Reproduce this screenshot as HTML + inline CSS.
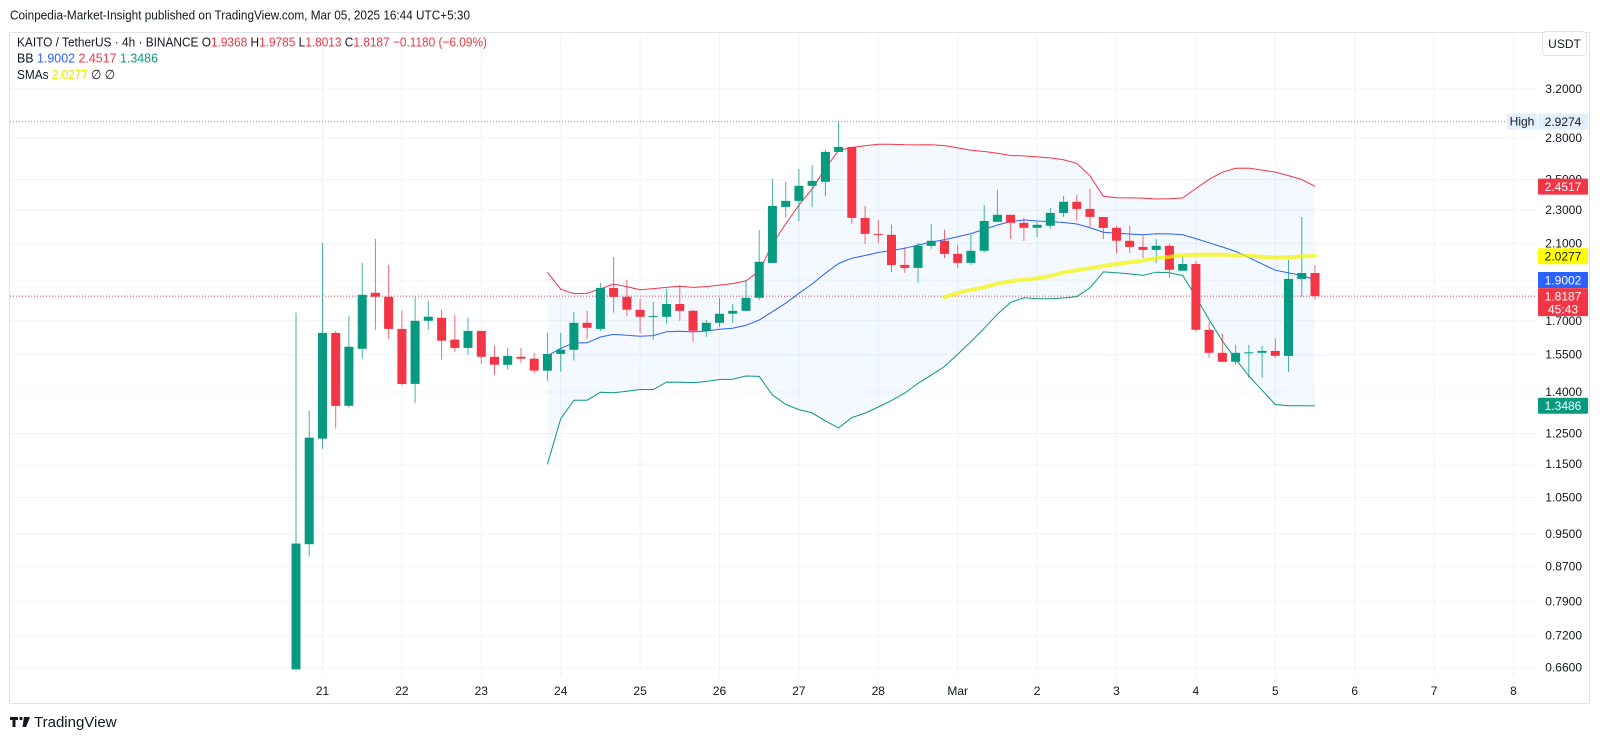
<!DOCTYPE html>
<html><head><meta charset="utf-8"><style>
html,body{margin:0;padding:0;background:#fff;}
svg{display:block;font-family:"Liberation Sans","DejaVu Sans",sans-serif;}
</style></head><body>
<svg id="chart" width="1600" height="739" viewBox="0 0 1600 739" xmlns="http://www.w3.org/2000/svg">
<rect x="0" y="0" width="1600" height="739" fill="#fff"/>
<text x="10" y="19.5" font-size="13" fill="#131722" textLength="460" lengthAdjust="spacingAndGlyphs">Coinpedia-Market-Insight published on TradingView.com, Mar 05, 2025 16:44 UTC+5:30</text>
<rect x="9.5" y="32.5" width="1580" height="671" fill="none" stroke="#e0e3eb"/>
<g id="grid"></g>
<g id="bands"></g>
<g id="candles"></g>
<g id="axis"></g>
<text x="17" y="46.5" font-size="13" fill="#131722" textLength="470" lengthAdjust="spacingAndGlyphs">KAITO / TetherUS · 4h · BINANCE  O<tspan fill="#f23645">1.9368</tspan>  H<tspan fill="#f23645">1.9785</tspan>  L<tspan fill="#f23645">1.8013</tspan>  C<tspan fill="#f23645">1.8187</tspan>  <tspan fill="#f23645">−0.1180 (−6.09%)</tspan></text>
<text x="17" y="62.5" font-size="13" fill="#131722" textLength="141" lengthAdjust="spacingAndGlyphs">BB  <tspan fill="#2962ff">1.9002</tspan>  <tspan fill="#f23645">2.4517</tspan>  <tspan fill="#089981">1.3486</tspan></text>
<text x="17" y="79" font-size="13" fill="#131722" textLength="98" lengthAdjust="spacingAndGlyphs">SMAs  <tspan fill="#e8e800">2.0277</tspan>  ∅  ∅</text>
<rect x="1542.5" y="31.5" width="44" height="24" rx="4" fill="#fff" stroke="#e0e3eb"/>
<text x="1564.5" y="48" font-size="12" fill="#131722" text-anchor="middle">USDT</text>
<g>
<path d="M10 717h8v3h-2.5v7h-3v-7H10z" fill="#131722"/>
<circle cx="21" cy="718.5" r="1.6" fill="#131722"/>
<path d="M24 717h6l-4 10h-3.5z" fill="#131722"/>
<text x="34" y="727" font-size="15" fill="#131722">TradingView</text>
</g>
</svg>
<script>
const opens=[0.657,0.924,1.233,1.645,1.348,1.575,1.835,1.815,1.663,1.431,
1.700,1.714,1.615,1.579,1.654,1.541,1.508,1.541,1.533,1.484,
1.553,1.571,1.691,1.663,1.860,1.815,1.752,1.719,1.719,1.780,
1.747,1.654,1.691,1.733,1.747,1.810,1.991,2.320,2.358,2.457,
2.484,2.695,2.732,2.251,2.155,2.150,1.980,1.964,2.086,2.115,
2.041,1.991,2.058,2.227,2.270,2.221,2.191,2.203,2.282,2.352,
2.307,2.257,2.191,2.115,2.080,2.063,2.086,1.949,1.985,1.659,
1.558,1.520,1.558,1.558,1.566,1.545,1.906,1.9368];
const highs=[1.738,1.330,2.103,1.654,1.723,1.991,2.126,1.980,1.747,1.815,
1.795,1.752,1.728,1.714,1.654,1.588,1.579,1.579,1.558,1.645,
1.645,1.743,1.747,1.886,2.024,1.901,1.805,1.790,1.855,1.875,
1.752,1.705,1.810,1.780,1.901,2.179,2.504,2.484,2.573,2.601,
2.710,2.9274,2.732,2.326,2.239,2.209,2.080,2.103,2.215,2.179,
2.092,2.150,2.332,2.430,2.270,2.251,2.227,2.313,2.390,2.397,
2.437,2.257,2.203,2.203,2.150,2.126,2.097,2.024,2.002,1.695,
1.641,1.592,1.592,1.588,1.619,2.008,2.257,1.9785];
const lows=[0.655,0.894,1.199,1.267,1.341,1.533,1.659,1.619,1.424,1.359,
1.659,1.529,1.562,1.549,1.512,1.467,1.488,1.516,1.472,1.443,
1.480,1.525,1.619,1.654,1.738,1.723,1.645,1.615,1.686,1.700,
1.606,1.628,1.672,1.691,1.747,1.800,1.991,2.251,2.233,2.320,
2.390,2.695,2.215,2.097,2.103,1.943,1.938,1.886,2.069,2.018,
1.964,1.980,2.047,2.227,2.126,2.115,2.138,2.185,2.257,2.233,
2.197,2.126,2.041,2.047,2.018,1.991,1.911,1.949,1.650,1.537,
1.520,1.508,1.455,1.455,1.537,1.480,1.815,1.8013];
const closes=[0.926,1.236,1.645,1.348,1.584,1.825,1.815,1.663,1.431,1.700,
1.719,1.610,1.579,1.654,1.541,1.508,1.545,1.533,1.484,1.553,
1.571,1.691,1.668,1.860,1.815,1.752,1.719,1.723,1.780,1.747,
1.654,1.691,1.733,1.747,1.810,1.997,2.326,2.358,2.457,2.490,
2.695,2.732,2.251,2.155,2.150,1.980,1.964,2.086,2.115,2.041,
1.991,2.058,2.233,2.270,2.221,2.191,2.209,2.282,2.352,2.307,
2.257,2.191,2.115,2.080,2.063,2.086,1.954,1.985,1.659,1.558,
1.520,1.558,1.560,1.566,1.545,1.906,1.9368,1.8187];
const dayLabels=['21','22','23','24','25','26','27','28','Mar','2','3','4','5','6','7','8'];
const priceTicks=[3.2,2.8,2.5,2.3,2.1,1.9,1.7,1.55,1.4,1.25,1.15,1.05,0.95,0.87,0.79,0.72,0.66];
const hiddenTicks=[1.9];
const bbPeriod=20;
const smaPeriod=50;
const allTimeHigh=2.9274;
const countdown='45:43';

const NS='http://www.w3.org/2000/svg';
function X(i){return 296+13.234*i;}
function Y(p){return 89+Math.log(3.2/p)*366.5;}
function mk(tag,attrs,parent){const e=document.createElementNS(NS,tag);for(const k in attrs)e.setAttribute(k,attrs[k]);parent.appendChild(e);return e;}
const grid=document.getElementById('grid'),bands=document.getElementById('bands'),cg=document.getElementById('candles'),axis=document.getElementById('axis');
const PL=10,PR=1537,PB=676;

priceTicks.forEach(p=>{
  const l=mk('line',{x1:PL,x2:PR,y1:Y(p).toFixed(1),y2:Y(p).toFixed(1),stroke:'#f0f3fa','stroke-width':1},grid);
  
  
  if(hiddenTicks.indexOf(p)<0){
    const t=mk('text',{x:1582,y:(Y(p)+4).toFixed(1),'font-size':12,fill:'#131722','text-anchor':'end'},axis);
    t.textContent=p.toFixed(4);
    
    
  }
});
dayLabels.forEach((d,k)=>{
  const x=X(2+6*k);
  const l=mk('line',{x1:x.toFixed(1),x2:x.toFixed(1),y1:33,y2:PB,stroke:'#f0f3fa','stroke-width':1},grid);
  
  
  const t=mk('text',{x:x.toFixed(1),y:695,'font-size':12,fill:'#131722','text-anchor':'middle'},axis);
  t.textContent=d;
  
  
});

const up=[],mid=[],lo=[],sma=[];
for(let i=bbPeriod-1;i<closes.length;i++){
  const s=closes.slice(i-bbPeriod+1,i+1);const m=s.reduce((a,b)=>a+b,0)/bbPeriod;
  const sd=Math.sqrt(s.reduce((a,b)=>a+(b-m)*(b-m),0)/bbPeriod);
  mid.push([X(i),Y(m)]);up.push([X(i),Y(m+2*sd)]);lo.push([X(i),Y(m-2*sd)]);
}
for(let i=smaPeriod-1;i<closes.length;i++){
  const s=closes.slice(i-smaPeriod+1,i+1);sma.push([X(i),Y(s.reduce((a,b)=>a+b,0)/smaPeriod)]);
}
const pts=a=>a.map(p=>p[0].toFixed(1)+','+p[1].toFixed(1)).join(' ');
const fill=mk('polygon',{points:pts(up)+' '+pts(lo.slice().reverse()),fill:'#2196f3','fill-opacity':0.055},bands);


const hl=mk('line',{x1:PL,x2:1507,y1:Y(allTimeHigh).toFixed(1),y2:Y(allTimeHigh).toFixed(1),stroke:'#9598a1','stroke-dasharray':'1 2'},bands);


const cl=mk('line',{x1:PL,x2:PR,y1:Y(closes[closes.length-1]).toFixed(1),y2:Y(closes[closes.length-1]).toFixed(1),stroke:'#f23645','stroke-dasharray':'1 2'},bands);


const bu=mk('polyline',{points:pts(up),fill:'none',stroke:'#f23645','stroke-width':1},bands);


const bm=mk('polyline',{points:pts(mid),fill:'none',stroke:'#2962ff','stroke-width':1},bands);


const bl=mk('polyline',{points:pts(lo),fill:'none',stroke:'#089981','stroke-width':1},bands);



for(let i=0;i<closes.length;i++){
  const g=closes[i]>=opens[i];const c=g?'#089981':'#f23645';const x=X(i);
  const w=mk('line',{x1:x.toFixed(1),x2:x.toFixed(1),y1:Y(highs[i]).toFixed(1),y2:Y(lows[i]).toFixed(1),stroke:c,'stroke-width':1,'stroke-opacity':0.75},cg);
  
  
  const t=Math.min(Y(opens[i]),Y(closes[i])),h=Math.max(1,Math.abs(Y(opens[i])-Y(closes[i])));
  const b=mk('rect',{x:(x-4.5).toFixed(1),y:t.toFixed(1),width:9,height:h.toFixed(1),fill:c},cg);
  
  
}
const sl=mk('polyline',{points:pts(sma),fill:'none',stroke:'#f5f500','stroke-width':4,'stroke-opacity':0.7,'stroke-linecap':'round'},cg);



function tag(name,val,bg,fg,extra){
  const y=Y(val);const h=extra?28:16;
  const r=mk('rect',{x:1538,y:(y-8).toFixed(1),width:50,height:h,fill:bg,rx:1},axis);
  
  
  const t=mk('text',{x:1563,y:(y+4.5).toFixed(1),'font-size':12,fill:fg,'text-anchor':'middle'},axis);
  t.textContent=val.toFixed(4);
  
  
  if(extra){const t2=mk('text',{x:1563,y:(y+17.5).toFixed(1),'font-size':12,fill:fg,'text-anchor':'middle'},axis);t2.textContent=extra;
  
  }
}
const hy=Y(allTimeHigh);
const hb=mk('rect',{x:1507,y:(hy-8).toFixed(1),width:30,height:16,fill:'#e3effd'},axis);


const ht=mk('text',{x:1522,y:(hy+4).toFixed(1),'font-size':12,fill:'#131722','text-anchor':'middle'},axis);
ht.textContent='High';


tag('high-tag',allTimeHigh,'#e3effd','#131722');
tag('bb-upper-tag',2.4517,'#f23645','#fff');
tag('sma-tag',2.0277,'#ffff00','#131722');
tag('bb-basis-tag',1.9002,'#2962ff','#fff');
tag('last-price-tag',closes[closes.length-1],'#f23645','#fff',countdown);
tag('bb-lower-tag',1.3486,'#089981','#fff');
</script>
</body></html>
